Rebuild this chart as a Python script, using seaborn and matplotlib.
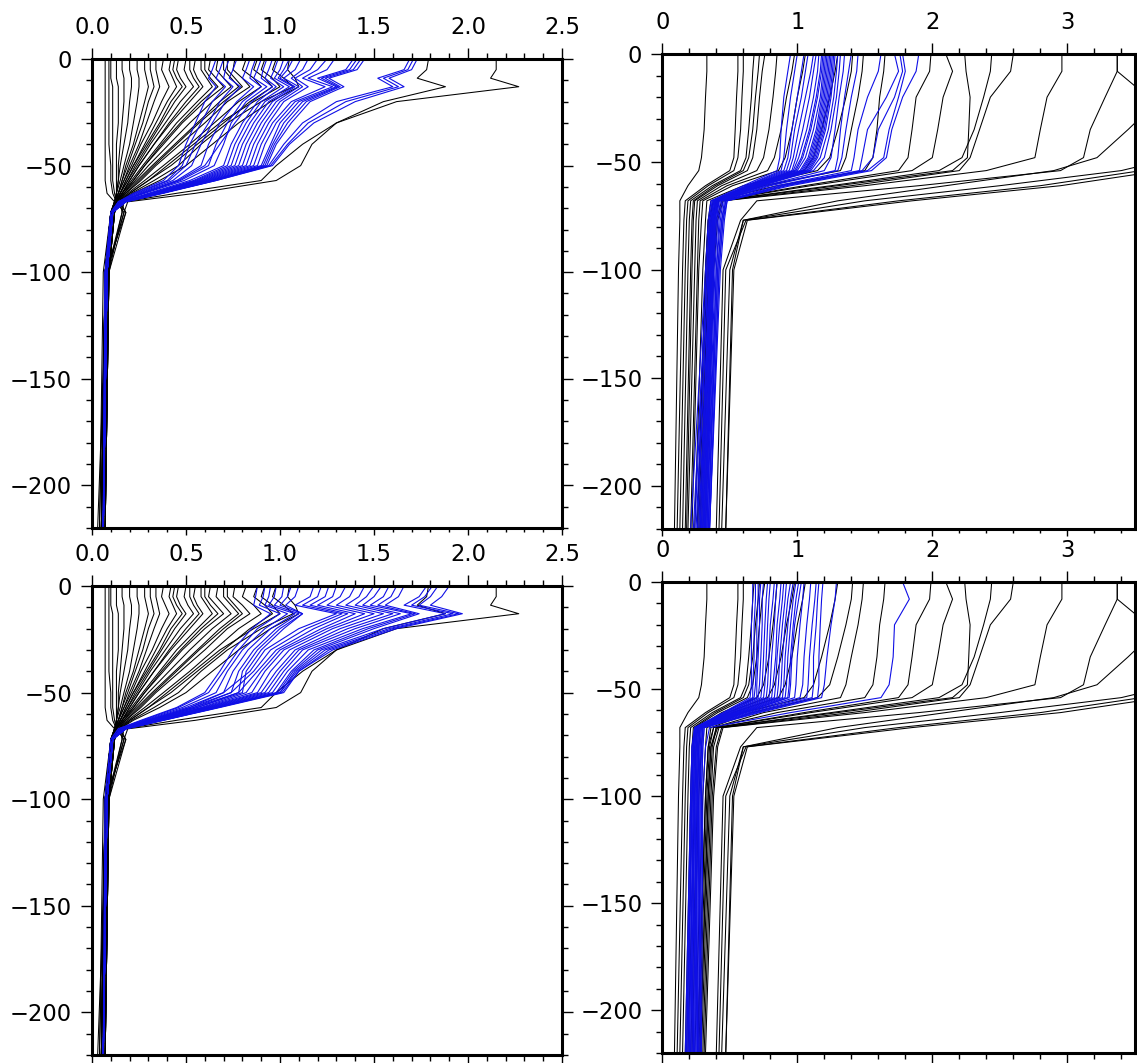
import matplotlib
matplotlib.use("Agg")
import matplotlib.pyplot as plt
import numpy as np
import pandas as pd
import seaborn as sns
from matplotlib.ticker import MultipleLocator, FormatStrFormatter

# ---------------- data ----------------
DEPTH_LEFT = [0, -5, -9, -13, -20, -30, -40, -50, -57, -63, -67, -72, -100, -220]
DEPTH_RIGHT = [0, -8, -20, -35, -48, -54, -61, -68, -77, -100, -220]

LEFT_BLACK = [
    [0.07, 0.07, 0.07, 0.07, 0.07, 0.07, 0.07, 0.07, 0.07, 0.08, 0.12, 0.10, 0.06, 0.04],
    [0.09, 0.09, 0.09, 0.09, 0.09, 0.09, 0.09, 0.10, 0.10, 0.11, 0.13, 0.10, 0.08, 0.06],
    [0.10, 0.10, 0.10, 0.11, 0.11, 0.11, 0.11, 0.11, 0.11, 0.12, 0.13, 0.11, 0.08, 0.03],
    [0.13, 0.13, 0.13, 0.14, 0.14, 0.14, 0.13, 0.13, 0.13, 0.13, 0.13, 0.10, 0.07, 0.05],
    [0.16, 0.16, 0.17, 0.17, 0.17, 0.16, 0.15, 0.14, 0.14, 0.13, 0.12, 0.10, 0.07, 0.05],
    [0.20, 0.20, 0.21, 0.21, 0.20, 0.19, 0.17, 0.15, 0.14, 0.13, 0.12, 0.11, 0.08, 0.06],
    [0.24, 0.24, 0.25, 0.25, 0.24, 0.22, 0.20, 0.17, 0.15, 0.13, 0.12, 0.12, 0.09, 0.07],
    [0.28, 0.28, 0.29, 0.30, 0.28, 0.25, 0.22, 0.18, 0.16, 0.14, 0.12, 0.10, 0.07, 0.05],
    [0.31, 0.31, 0.32, 0.33, 0.30, 0.27, 0.23, 0.19, 0.16, 0.14, 0.12, 0.11, 0.08, 0.06],
    [0.34, 0.34, 0.35, 0.36, 0.33, 0.29, 0.25, 0.20, 0.17, 0.14, 0.13, 0.11, 0.08, 0.06],
    [0.38, 0.37, 0.39, 0.41, 0.37, 0.32, 0.26, 0.21, 0.17, 0.14, 0.12, 0.10, 0.07, 0.04],
    [0.42, 0.41, 0.43, 0.45, 0.40, 0.34, 0.28, 0.22, 0.18, 0.15, 0.13, 0.12, 0.09, 0.07],
    [0.44, 0.43, 0.45, 0.48, 0.42, 0.36, 0.29, 0.22, 0.18, 0.15, 0.13, 0.10, 0.07, 0.05],
    [0.46, 0.45, 0.47, 0.50, 0.44, 0.37, 0.30, 0.23, 0.19, 0.15, 0.13, 0.11, 0.08, 0.06],
    [0.50, 0.49, 0.51, 0.54, 0.47, 0.39, 0.31, 0.24, 0.19, 0.15, 0.12, 0.10, 0.07, 0.05],
    [0.52, 0.52, 0.54, 0.57, 0.50, 0.41, 0.33, 0.25, 0.20, 0.16, 0.13, 0.11, 0.08, 0.06],
    [0.55, 0.54, 0.56, 0.59, 0.52, 0.42, 0.33, 0.25, 0.20, 0.16, 0.13, 0.12, 0.09, 0.07],
    [0.58, 0.58, 0.61, 0.64, 0.56, 0.45, 0.36, 0.27, 0.21, 0.16, 0.13, 0.11, 0.08, 0.06],
    [0.60, 0.60, 0.63, 0.67, 0.58, 0.47, 0.37, 0.28, 0.22, 0.16, 0.13, 0.12, 0.09, 0.07],
    [0.63, 0.62, 0.66, 0.70, 0.60, 0.48, 0.38, 0.28, 0.22, 0.17, 0.13, 0.10, 0.07, 0.05],
    [0.67, 0.66, 0.70, 0.74, 0.64, 0.52, 0.41, 0.30, 0.23, 0.17, 0.14, 0.12, 0.09, 0.07],
    [0.70, 0.70, 0.74, 0.78, 0.68, 0.56, 0.44, 0.32, 0.24, 0.17, 0.13, 0.17, 0.08, 0.06],
    [0.72, 0.72, 0.76, 0.80, 0.70, 0.57, 0.45, 0.33, 0.25, 0.18, 0.14, 0.11, 0.08, 0.06],
    [0.76, 0.75, 0.80, 0.84, 0.72, 0.60, 0.47, 0.34, 0.26, 0.18, 0.14, 0.18, 0.07, 0.05],
    [0.82, 0.80, 0.86, 0.90, 0.78, 0.65, 0.52, 0.38, 0.28, 0.19, 0.14, 0.12, 0.09, 0.07],
    [0.88, 0.86, 0.92, 0.96, 0.84, 0.70, 0.56, 0.42, 0.30, 0.20, 0.15, 0.16, 0.08, 0.06],
    [0.92, 0.90, 0.96, 1.00, 0.86, 0.68, 0.54, 0.40, 0.30, 0.20, 0.14, 0.10, 0.07, 0.05],
    [0.98, 0.96, 1.02, 1.07, 0.90, 0.72, 0.58, 0.46, 0.33, 0.21, 0.15, 0.10, 0.07, 0.05],
    [1.05, 1.04, 1.08, 1.10, 0.95, 0.78, 0.64, 0.50, 0.36, 0.22, 0.15, 0.18, 0.09, 0.07],
    [1.79, 1.78, 1.73, 1.88, 1.55, 1.30, 1.12, 0.98, 0.90, 0.45, 0.17, 0.16, 0.09, 0.06],
    [2.15, 2.15, 2.12, 2.27, 1.62, 1.30, 1.17, 1.11, 0.98, 0.55, 0.19, 0.17, 0.08, 0.06],
]

LEFT_BLUE_TOP = [
    [0.66, 0.64, 0.62, 0.66, 0.60, 0.55, 0.50, 0.46, 0.38, 0.22, 0.14, 0.10, 0.07, 0.06],
    [0.70, 0.68, 0.66, 0.71, 0.64, 0.58, 0.52, 0.48, 0.40, 0.23, 0.14, 0.10, 0.07, 0.06],
    [0.73, 0.71, 0.70, 0.75, 0.68, 0.62, 0.55, 0.50, 0.41, 0.24, 0.14, 0.11, 0.07, 0.06],
    [0.77, 0.75, 0.73, 0.79, 0.71, 0.64, 0.58, 0.53, 0.43, 0.25, 0.15, 0.11, 0.08, 0.06],
    [0.84, 0.82, 0.80, 0.86, 0.77, 0.68, 0.62, 0.58, 0.45, 0.26, 0.15, 0.11, 0.08, 0.06],
    [0.87, 0.85, 0.84, 0.90, 0.80, 0.72, 0.66, 0.62, 0.47, 0.27, 0.15, 0.11, 0.08, 0.06],
    [0.90, 0.88, 0.86, 0.93, 0.82, 0.74, 0.70, 0.65, 0.49, 0.28, 0.15, 0.11, 0.08, 0.06],
    [0.93, 0.91, 0.90, 0.96, 0.85, 0.76, 0.68, 0.60, 0.46, 0.27, 0.15, 0.11, 0.07, 0.06],
    [0.96, 0.94, 0.92, 0.98, 0.88, 0.80, 0.74, 0.70, 0.52, 0.30, 0.16, 0.11, 0.08, 0.06],
    [0.99, 0.97, 0.95, 1.02, 0.90, 0.82, 0.76, 0.72, 0.54, 0.31, 0.16, 0.11, 0.08, 0.06],
    [1.02, 1.00, 0.97, 1.05, 0.92, 0.84, 0.78, 0.74, 0.55, 0.32, 0.16, 0.11, 0.08, 0.06],
    [1.05, 1.02, 0.99, 1.07, 0.94, 0.86, 0.80, 0.76, 0.56, 0.32, 0.16, 0.11, 0.08, 0.06],
    [1.07, 1.04, 1.00, 1.08, 0.96, 0.88, 0.82, 0.78, 0.57, 0.33, 0.16, 0.11, 0.08, 0.06],
    [1.11, 1.08, 1.02, 1.10, 0.98, 0.90, 0.84, 0.80, 0.58, 0.33, 0.16, 0.11, 0.08, 0.06],
    [1.15, 1.12, 1.06, 1.12, 1.00, 0.92, 0.86, 0.82, 0.59, 0.34, 0.17, 0.11, 0.08, 0.06],
    [1.20, 1.16, 1.08, 1.15, 1.02, 0.94, 0.88, 0.84, 0.60, 0.34, 0.17, 0.11, 0.08, 0.06],
    [1.25, 1.20, 1.12, 1.24, 1.06, 0.96, 0.90, 0.86, 0.61, 0.35, 0.17, 0.11, 0.08, 0.06],
    [1.29, 1.25, 1.15, 1.28, 1.08, 0.98, 0.92, 0.88, 0.62, 0.35, 0.17, 0.11, 0.08, 0.06],
    [1.39, 1.35, 1.20, 1.30, 1.10, 1.00, 0.95, 0.90, 0.63, 0.36, 0.17, 0.11, 0.08, 0.06],
    [1.41, 1.37, 1.22, 1.31, 1.12, 1.02, 0.96, 0.91, 0.64, 0.36, 0.17, 0.11, 0.08, 0.06],
    [1.43, 1.39, 1.24, 1.32, 1.14, 1.04, 0.97, 0.92, 0.64, 0.36, 0.17, 0.11, 0.08, 0.06],
    [1.45, 1.41, 1.26, 1.34, 1.16, 1.06, 0.98, 0.93, 0.65, 0.37, 0.17, 0.11, 0.08, 0.06],
    [1.69, 1.66, 1.52, 1.60, 1.30, 1.12, 1.02, 0.94, 0.65, 0.37, 0.18, 0.11, 0.08, 0.06],
    [1.71, 1.68, 1.55, 1.63, 1.35, 1.15, 1.04, 0.95, 0.66, 0.37, 0.18, 0.11, 0.08, 0.06],
    [1.73, 1.70, 1.58, 1.66, 1.40, 1.18, 1.05, 0.96, 0.66, 0.38, 0.18, 0.11, 0.08, 0.06],
]

LEFT_BLUE_BOTTOM = [
    [0.88, 0.87, 0.86, 0.95, 0.85, 0.75, 0.68, 0.60, 0.45, 0.26, 0.14, 0.10, 0.07, 0.06],
    [0.92, 0.91, 0.89, 1.00, 0.88, 0.78, 0.70, 0.62, 0.46, 0.27, 0.14, 0.10, 0.07, 0.06],
    [0.95, 0.94, 0.92, 1.04, 0.92, 0.80, 0.72, 0.66, 0.48, 0.28, 0.15, 0.11, 0.08, 0.06],
    [0.98, 0.97, 0.94, 1.08, 0.95, 0.83, 0.75, 0.70, 0.50, 0.29, 0.15, 0.11, 0.08, 0.06],
    [1.02, 1.01, 0.97, 1.10, 0.98, 0.86, 0.78, 0.74, 0.52, 0.30, 0.15, 0.11, 0.08, 0.06],
    [1.06, 1.04, 1.00, 1.12, 1.00, 0.88, 0.80, 0.78, 0.54, 0.31, 0.16, 0.11, 0.08, 0.06],
    [1.10, 1.08, 1.03, 1.12, 1.02, 0.90, 0.82, 0.80, 0.56, 0.32, 0.16, 0.11, 0.08, 0.06],
    [1.18, 1.16, 1.08, 1.30, 1.10, 0.92, 0.84, 0.70, 0.52, 0.30, 0.15, 0.11, 0.08, 0.06],
    [1.22, 1.20, 1.12, 1.33, 1.14, 0.95, 0.86, 0.74, 0.54, 0.31, 0.16, 0.11, 0.08, 0.06],
    [1.26, 1.24, 1.16, 1.36, 1.18, 0.98, 0.88, 0.78, 0.56, 0.32, 0.16, 0.11, 0.08, 0.06],
    [1.30, 1.28, 1.20, 1.40, 1.22, 1.00, 0.90, 0.82, 0.58, 0.33, 0.16, 0.11, 0.08, 0.06],
    [1.35, 1.32, 1.25, 1.45, 1.25, 1.02, 0.92, 0.85, 0.59, 0.33, 0.16, 0.11, 0.08, 0.06],
    [1.40, 1.37, 1.30, 1.50, 1.28, 1.05, 0.95, 0.88, 0.60, 0.34, 0.17, 0.11, 0.08, 0.06],
    [1.45, 1.42, 1.35, 1.55, 1.32, 1.08, 0.98, 0.90, 0.61, 0.34, 0.17, 0.11, 0.08, 0.06],
    [1.50, 1.46, 1.40, 1.60, 1.36, 1.10, 1.00, 0.92, 0.62, 0.35, 0.17, 0.11, 0.08, 0.06],
    [1.54, 1.50, 1.44, 1.64, 1.40, 1.12, 1.02, 0.94, 0.63, 0.35, 0.17, 0.11, 0.08, 0.06],
    [1.58, 1.55, 1.48, 1.70, 1.44, 1.15, 1.04, 0.96, 0.64, 0.36, 0.17, 0.11, 0.08, 0.06],
    [1.62, 1.59, 1.52, 1.72, 1.47, 1.18, 1.06, 0.98, 0.65, 0.36, 0.17, 0.11, 0.08, 0.06],
    [1.66, 1.63, 1.56, 1.74, 1.50, 1.20, 1.07, 0.99, 0.66, 0.37, 0.18, 0.11, 0.08, 0.06],
    [1.78, 1.74, 1.66, 1.88, 1.55, 1.22, 1.08, 1.00, 0.66, 0.37, 0.18, 0.11, 0.08, 0.06],
    [1.81, 1.77, 1.70, 1.92, 1.58, 1.24, 1.09, 1.00, 0.67, 0.37, 0.18, 0.11, 0.08, 0.06],
    [1.84, 1.80, 1.74, 1.95, 1.60, 1.26, 1.10, 1.01, 0.67, 0.38, 0.18, 0.11, 0.08, 0.06],
    [1.90, 1.86, 1.80, 1.97, 1.62, 1.28, 1.10, 1.02, 0.68, 0.38, 0.18, 0.11, 0.08, 0.06],
]

RIGHT_BLACK = [
    [0.33, 0.33, 0.32, 0.31, 0.29, 0.27, 0.19, 0.13, 0.13, 0.12, 0.09],
    [0.56, 0.56, 0.55, 0.54, 0.53, 0.50, 0.32, 0.17, 0.16, 0.15, 0.11],
    [0.60, 0.60, 0.59, 0.58, 0.56, 0.53, 0.34, 0.19, 0.18, 0.17, 0.13],
    [0.68, 0.67, 0.66, 0.64, 0.62, 0.58, 0.37, 0.21, 0.20, 0.19, 0.15],
    [0.72, 0.71, 0.69, 0.67, 0.64, 0.60, 0.39, 0.23, 0.22, 0.21, 0.17],
    [0.76, 0.74, 0.72, 0.70, 0.67, 0.63, 0.41, 0.24, 0.23, 0.22, 0.18],
    [0.85, 0.84, 0.82, 0.79, 0.75, 0.70, 0.44, 0.26, 0.25, 0.24, 0.19],
    [0.98, 0.96, 0.92, 0.88, 0.83, 0.78, 0.48, 0.28, 0.27, 0.26, 0.21],
    [1.06, 1.04, 1.00, 0.96, 0.91, 0.86, 0.52, 0.30, 0.29, 0.27, 0.22],
    [1.30, 1.28, 1.24, 1.18, 1.12, 1.05, 0.60, 0.33, 0.32, 0.30, 0.24],
    [1.41, 1.40, 1.36, 1.30, 1.24, 1.15, 0.66, 0.36, 0.34, 0.32, 0.26],
    [1.49, 1.48, 1.45, 1.40, 1.36, 1.32, 0.75, 0.38, 0.35, 0.33, 0.27],
    [1.65, 1.64, 1.61, 1.59, 1.56, 1.50, 0.85, 0.38, 0.34, 0.32, 0.26],
    [1.99, 1.98, 1.88, 1.85, 1.82, 1.75, 1.05, 0.40, 0.36, 0.34, 0.28],
    [2.10, 2.15, 2.08, 2.04, 2.00, 1.85, 1.10, 0.40, 0.37, 0.35, 0.29],
    [2.24, 2.25, 2.28, 2.27, 2.26, 2.15, 1.30, 0.42, 0.38, 0.36, 0.30],
    [2.44, 2.43, 2.38, 2.31, 2.22, 2.05, 1.25, 0.41, 0.36, 0.34, 0.28],
    [2.60, 2.58, 2.43, 2.35, 2.28, 2.20, 1.40, 0.44, 0.40, 0.37, 0.31],
    [2.96, 2.96, 2.85, 2.80, 2.76, 2.40, 1.50, 0.45, 0.41, 0.38, 0.32],
    [3.37, 3.37, 3.28, 3.17, 3.12, 2.95, 1.90, 0.70, 0.58, 0.45, 0.40],
    [3.37, 3.37, 3.60, 3.75, 3.80, 3.40, 2.50, 1.50, 0.60, 0.52, 0.47],
    [3.90, 3.85, 3.70, 3.45, 3.22, 2.90, 2.10, 1.30, 0.60, 0.50, 0.44],
    [4.20, 4.20, 4.10, 3.95, 3.80, 3.55, 2.80, 1.75, 0.62, 0.47, 0.42],
    [4.50, 4.50, 4.40, 4.30, 4.10, 3.70, 2.95, 1.85, 0.63, 0.53, 0.47],
]

RIGHT_BLUE_TOP = [
    [0.95, 0.93, 0.90, 0.88, 0.87, 0.85, 0.60, 0.36, 0.34, 0.32, 0.21],
    [1.00, 0.98, 0.95, 0.92, 0.90, 0.88, 0.62, 0.37, 0.35, 0.33, 0.23],
    [1.05, 1.03, 1.00, 0.96, 0.93, 0.90, 0.63, 0.37, 0.35, 0.33, 0.24],
    [1.08, 1.06, 1.03, 0.98, 0.95, 0.92, 0.64, 0.38, 0.36, 0.34, 0.25],
    [1.12, 1.10, 1.06, 1.01, 0.97, 0.94, 0.65, 0.38, 0.36, 0.34, 0.26],
    [1.14, 1.12, 1.09, 1.04, 0.99, 0.96, 0.66, 0.38, 0.36, 0.35, 0.27],
    [1.16, 1.15, 1.12, 1.07, 1.01, 0.97, 0.66, 0.39, 0.37, 0.35, 0.28],
    [1.18, 1.17, 1.14, 1.09, 1.03, 0.98, 0.67, 0.39, 0.37, 0.35, 0.28],
    [1.19, 1.18, 1.15, 1.10, 1.04, 0.99, 0.67, 0.39, 0.37, 0.35, 0.29],
    [1.20, 1.19, 1.17, 1.12, 1.06, 1.00, 0.68, 0.39, 0.37, 0.36, 0.29],
    [1.21, 1.20, 1.18, 1.14, 1.08, 1.02, 0.68, 0.40, 0.38, 0.36, 0.30],
    [1.22, 1.21, 1.19, 1.15, 1.09, 1.03, 0.69, 0.40, 0.38, 0.36, 0.30],
    [1.23, 1.22, 1.20, 1.16, 1.10, 1.04, 0.69, 0.40, 0.38, 0.36, 0.30],
    [1.24, 1.23, 1.21, 1.17, 1.11, 1.05, 0.70, 0.40, 0.38, 0.37, 0.31],
    [1.25, 1.24, 1.22, 1.18, 1.12, 1.06, 0.70, 0.41, 0.39, 0.37, 0.31],
    [1.26, 1.25, 1.23, 1.19, 1.13, 1.07, 0.71, 0.41, 0.39, 0.37, 0.31],
    [1.27, 1.26, 1.24, 1.20, 1.14, 1.08, 0.72, 0.41, 0.39, 0.37, 0.32],
    [1.28, 1.27, 1.25, 1.21, 1.15, 1.09, 0.72, 0.41, 0.39, 0.38, 0.32],
    [1.30, 1.29, 1.27, 1.23, 1.17, 1.10, 0.73, 0.42, 0.40, 0.38, 0.32],
    [1.32, 1.31, 1.29, 1.25, 1.20, 1.12, 0.74, 0.42, 0.40, 0.38, 0.33],
    [1.35, 1.34, 1.31, 1.28, 1.25, 1.20, 0.76, 0.43, 0.41, 0.39, 0.33],
    [1.40, 1.38, 1.35, 1.32, 1.30, 1.28, 0.78, 0.44, 0.42, 0.40, 0.33],
    [1.45, 1.44, 1.40, 1.36, 1.33, 1.30, 0.80, 0.45, 0.43, 0.40, 0.34],
    [1.62, 1.60, 1.52, 1.45, 1.42, 1.40, 0.85, 0.46, 0.44, 0.41, 0.34],
    [1.72, 1.75, 1.66, 1.52, 1.48, 1.46, 0.88, 0.47, 0.44, 0.41, 0.34],
    [1.76, 1.78, 1.72, 1.60, 1.56, 1.48, 0.90, 0.47, 0.45, 0.42, 0.35],
    [1.78, 1.80, 1.75, 1.68, 1.64, 1.52, 0.92, 0.48, 0.45, 0.42, 0.35],
    [1.90, 1.88, 1.78, 1.70, 1.66, 1.55, 0.95, 0.48, 0.46, 0.43, 0.35],
]

RIGHT_BLUE_BOTTOM = [
    [0.67, 0.67, 0.66, 0.66, 0.66, 0.65, 0.45, 0.24, 0.22, 0.21, 0.17],
    [0.69, 0.69, 0.68, 0.68, 0.67, 0.67, 0.46, 0.24, 0.22, 0.21, 0.18],
    [0.71, 0.71, 0.70, 0.70, 0.69, 0.68, 0.47, 0.24, 0.23, 0.22, 0.18],
    [0.73, 0.72, 0.72, 0.71, 0.70, 0.70, 0.48, 0.25, 0.23, 0.22, 0.19],
    [0.75, 0.74, 0.74, 0.73, 0.72, 0.71, 0.49, 0.25, 0.23, 0.22, 0.19],
    [0.78, 0.77, 0.76, 0.75, 0.74, 0.73, 0.50, 0.25, 0.24, 0.23, 0.20],
    [0.80, 0.79, 0.78, 0.77, 0.76, 0.75, 0.51, 0.25, 0.24, 0.23, 0.20],
    [0.83, 0.82, 0.80, 0.79, 0.78, 0.77, 0.52, 0.26, 0.24, 0.23, 0.21],
    [0.85, 0.84, 0.83, 0.81, 0.80, 0.79, 0.53, 0.26, 0.25, 0.24, 0.21],
    [0.88, 0.87, 0.85, 0.84, 0.82, 0.81, 0.54, 0.26, 0.25, 0.24, 0.22],
    [0.90, 0.89, 0.87, 0.85, 0.84, 0.83, 0.55, 0.26, 0.25, 0.24, 0.22],
    [0.92, 0.91, 0.89, 0.87, 0.86, 0.85, 0.56, 0.27, 0.26, 0.25, 0.23],
    [0.95, 0.93, 0.91, 0.89, 0.88, 0.87, 0.57, 0.27, 0.26, 0.25, 0.23],
    [0.97, 0.95, 0.93, 0.91, 0.90, 0.89, 0.58, 0.27, 0.26, 0.25, 0.24],
    [0.99, 0.97, 0.95, 0.93, 0.92, 0.91, 0.59, 0.28, 0.27, 0.26, 0.24],
    [1.01, 0.99, 0.97, 0.95, 0.94, 0.93, 0.60, 0.28, 0.27, 0.26, 0.25],
    [1.03, 1.01, 0.98, 0.96, 0.95, 0.94, 0.61, 0.28, 0.27, 0.26, 0.25],
    [1.05, 1.04, 1.02, 1.00, 0.99, 0.98, 0.62, 0.29, 0.28, 0.27, 0.26],
    [1.10, 1.09, 1.07, 1.05, 1.04, 1.02, 0.64, 0.29, 0.28, 0.27, 0.26],
    [1.14, 1.13, 1.11, 1.09, 1.08, 1.07, 0.66, 0.30, 0.29, 0.28, 0.27],
    [1.16, 1.15, 1.14, 1.12, 1.12, 1.11, 0.68, 0.30, 0.29, 0.28, 0.27],
    [1.19, 1.18, 1.17, 1.16, 1.16, 1.15, 0.70, 0.31, 0.30, 0.29, 0.28],
    [1.29, 1.28, 1.25, 1.22, 1.20, 1.18, 0.72, 0.31, 0.30, 0.29, 0.28],
    [1.78, 1.83, 1.72, 1.71, 1.68, 1.62, 0.95, 0.35, 0.32, 0.30, 0.29],
]

LEFT_XMAX = 2.5
RIGHT_XMAX = 3.5
DEPTH_MIN = -220

BLUE = "#0f0fe6"

# ---------------- plotting ----------------
sns.set_theme(style="ticks")
plt.rcParams["font.family"] = ["DejaVu Sans"]
plt.rcParams["axes.unicode_minus"] = True

W, H = 1137, 1063
fig = plt.figure(figsize=(W / 100, H / 100), dpi=100)


def rect(x0, x1, y0, y1):
    return [x0 / W, 1 - y1 / H, (x1 - x0) / W, (y1 - y0) / H]


ax_tl = fig.add_axes(rect(92, 562, 59, 528))
ax_tr = fig.add_axes(rect(662.3, 1134.8, 54, 529))
ax_bl = fig.add_axes(rect(92, 562, 586, 1055))
ax_br = fig.add_axes(rect(662.3, 1134.8, 582, 1053))


def to_frame(depths, profiles):
    rows = []
    for i, prof in enumerate(profiles):
        for d, v in zip(depths, prof):
            rows.append((i, d, v))
    return pd.DataFrame(rows, columns=["profile", "depth", "value"])


def draw(ax, depths, black, blue):
    sns.lineplot(data=to_frame(depths, black), x="value", y="depth",
                 units="profile", estimator=None, sort=False,
                 color="black", lw=0.75, ax=ax, legend=False)
    sns.lineplot(data=to_frame(depths, blue), x="value", y="depth",
                 units="profile", estimator=None, sort=False,
                 color=BLUE, lw=0.8, ax=ax, legend=False)


def style(ax, xmax, xmajor, xminor, fmt, bottom_major, bottom_minor):
    ax.set_xlim(0, xmax)
    ax.set_ylim(DEPTH_MIN, 0)
    ax.set_xlabel("")
    ax.set_ylabel("")
    ax.xaxis.set_major_locator(MultipleLocator(xmajor))
    ax.xaxis.set_minor_locator(MultipleLocator(xminor))
    ax.xaxis.set_major_formatter(FormatStrFormatter(fmt))
    ax.yaxis.set_major_locator(MultipleLocator(50))
    ax.yaxis.set_minor_locator(MultipleLocator(10))
    ax.tick_params(axis="both", which="both", direction="out",
                   top=True, bottom=True, left=True, right=True,
                   labeltop=True, labelbottom=False,
                   labelleft=True, labelright=False,
                   width=1.0, color="black", labelcolor="black",
                   labelsize=16.3)
    ax.tick_params(axis="both", which="major", length=7.9, pad=6.5)
    ax.tick_params(axis="both", which="minor", length=4.3)
    for sp in ax.spines.values():
        sp.set_linewidth(2.2)
        sp.set_color("black")
        sp.set_zorder(5)
    ax.set_facecolor("white")
    fig.canvas.draw()
    for t in ax.xaxis.get_major_ticks():
        t.tick1line.set_markersize(bottom_major)
    for t in ax.xaxis.get_minor_ticks():
        t.tick1line.set_markersize(bottom_minor)


draw(ax_tl, DEPTH_LEFT, LEFT_BLACK, LEFT_BLUE_TOP)
draw(ax_bl, DEPTH_LEFT, LEFT_BLACK, LEFT_BLUE_BOTTOM)
draw(ax_tr, DEPTH_RIGHT, RIGHT_BLACK, RIGHT_BLUE_TOP)
draw(ax_br, DEPTH_RIGHT, RIGHT_BLACK, RIGHT_BLUE_BOTTOM)

style(ax_tl, LEFT_XMAX, 0.5, 0.1, "%.1f", 5.0, 3.0)
style(ax_bl, LEFT_XMAX, 0.5, 0.1, "%.1f", 7.9, 4.3)
style(ax_tr, RIGHT_XMAX, 1, 0.2, "%d", 5.0, 3.0)
style(ax_br, RIGHT_XMAX, 1, 0.2, "%d", 7.9, 4.3)

fig.savefig("out.png", dpi=100, facecolor="white")
